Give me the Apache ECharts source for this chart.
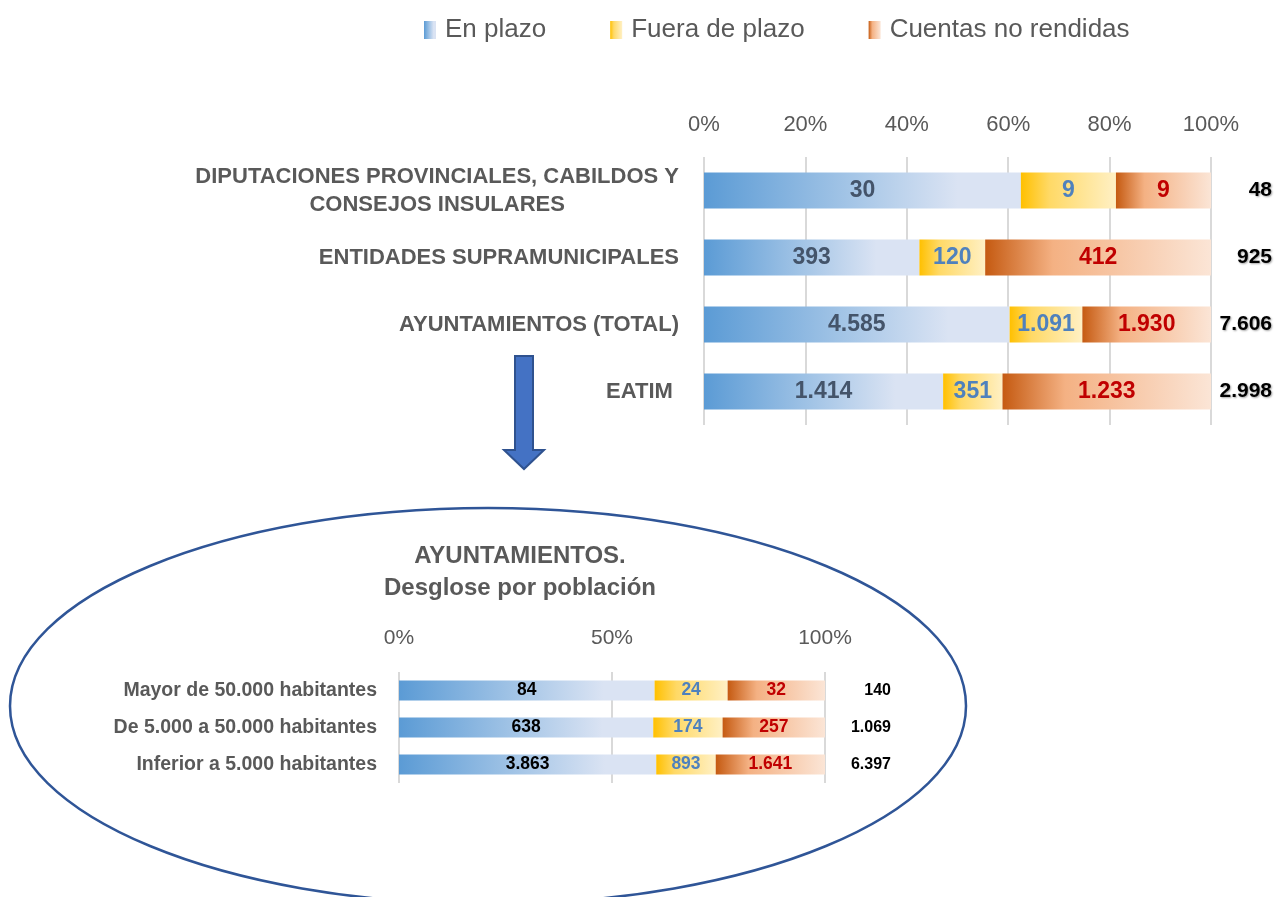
<!DOCTYPE html>
<html>
<head>
<meta charset="utf-8">
<script src="https://cdn.jsdelivr.net/npm/echarts@6/dist/echarts.min.js"></script>
<style>
  html, body { margin: 0; padding: 0; background: #fff; }
  #chart { width: 1275px; height: 897px; }
</style>
</head>
<body>
<div id="chart"></div>
<script>
// Entidades (gráfico superior)
const topCategories = [
  'DIPUTACIONES PROVINCIALES, CABILDOS Y\nCONSEJOS INSULARES',
  'ENTIDADES SUPRAMUNICIPALES',
  'AYUNTAMIENTOS (TOTAL)',
  'EATIM '
]
const topEnPlazo = [30, 393, 4585, 1414]
const topFuera = [9, 120, 1091, 351]
const topNoRendidas = [9, 412, 1930, 1233]

// Ayuntamientos por población (gráfico inferior)
const popCategories = [
  'Mayor de 50.000 habitantes',
  'De 5.000 a 50.000 habitantes',
  'Inferior a 5.000 habitantes'
]
const popEnPlazo = [84, 638, 3863]
const popFuera = [24, 174, 893]
const popNoRendidas = [32, 257, 1641]

const seriesNames = ['En plazo', 'Fuera de plazo', 'Cuentas no rendidas']

const FONT = "'Liberation Sans', Arial, sans-serif"
const GREY = '#595959'

const fmt = (n) => String(n).replace(/\B(?=(\d{3})+(?!\d))/g, '.')

const sumRows = (a, b, c) => a.map((v, i) => v + b[i] + c[i])
const topTotals = sumRows(topEnPlazo, topFuera, topNoRendidas)
const popTotals = sumRows(popEnPlazo, popFuera, popNoRendidas)

const grad = (stops) => new echarts.graphic.LinearGradient(0, 0, 1, 0,
  stops.map(([offset, color]) => ({ offset, color })))

const fills = [
  () => grad([[0, '#5b9bd5'], [0.45, '#a2c4e6'], [0.8, '#dae3f3'], [1, '#dae3f3']]),
  () => grad([[0, '#ffc000'], [0.3, '#ffd966'], [1, '#fff0c4']]),
  () => grad([[0, '#c55a11'], [0.3, '#f4b183'], [1, '#fbe5d6']])
]

const makeSeries = (idx, counts, totals, axisIndex, labelColor, fontSize) => ({
  name: seriesNames[idx],
  type: 'bar',
  stack: 'g' + axisIndex,
  xAxisIndex: axisIndex,
  yAxisIndex: axisIndex * 2,
  barWidth: '54%',
  data: counts.map((v, i) => v / totals[i] * 100),
  itemStyle: { color: fills[idx]() },
  label: {
    show: true,
    position: 'inside',
    formatter: (p) => fmt(counts[p.dataIndex]),
    color: labelColor,
    fontFamily: FONT,
    fontWeight: 'bold',
    fontSize
  },
  emphasis: { disabled: true }
})

const chart = echarts.init(document.getElementById('chart'))

const option = {
  backgroundColor: '#fff',
  animation: false,
  legend: {
    data: seriesNames,
    icon: 'rect',
    top: 12,
    left: 419,
    itemWidth: 12,
    itemHeight: 18,
    itemGap: 64,
    textStyle: { fontFamily: FONT, fontSize: 26, color: GREY, padding: [0, 0, 0, 4] }
  },
  title: {
    text: 'AYUNTAMIENTOS.\nDesglose por población',
    left: 515,
    top: 535,
    textAlign: 'center',
    textStyle: { fontFamily: FONT, fontSize: 24, fontWeight: 'bold', color: GREY, lineHeight: 32 }
  },
  grid: [
    { left: 704, right: 64, top: 157, height: 268 },
    { left: 399, right: 450, top: 672, height: 111 }
  ],
  xAxis: [
    {
      gridIndex: 0,
      type: 'value',
      position: 'top',
      min: 0,
      max: 100,
      interval: 20,
      axisLine: { show: false },
      axisTick: { show: false },
      axisLabel: { formatter: '{value}%', margin: 21, fontFamily: FONT, fontSize: 22, color: GREY },
      splitLine: { lineStyle: { color: '#d9d9d9', width: 2 } }
    },
    {
      gridIndex: 1,
      type: 'value',
      position: 'top',
      min: 0,
      max: 100,
      interval: 50,
      axisLine: { show: false },
      axisTick: { show: false },
      axisLabel: { formatter: '{value}%', margin: 23, fontFamily: FONT, fontSize: 21, color: GREY },
      splitLine: { lineStyle: { color: '#d9d9d9', width: 2 } }
    }
  ],
  yAxis: [
    {
      gridIndex: 0,
      type: 'category',
      inverse: true,
      data: topCategories,
      axisLine: { show: false },
      axisTick: { show: false },
      axisLabel: {
        margin: 25,
        formatter: (v) => '{c|' + v + '}',
        rich: {
          c: { align: 'center', fontFamily: FONT, fontSize: 22, fontWeight: 'bold', color: GREY, lineHeight: 28 }
        }
      }
    },
    {
      gridIndex: 0,
      type: 'category',
      inverse: true,
      position: 'right',
      data: topTotals.map(fmt),
      axisLine: { show: false },
      axisTick: { show: false },
      axisLabel: {
        margin: 61,
        align: 'right',
        fontFamily: FONT,
        fontSize: 21,
        fontWeight: 'bold',
        color: '#000',
        textShadowColor: 'rgba(0,0,0,0.35)',
        textShadowBlur: 2,
        textShadowOffsetX: 1,
        textShadowOffsetY: 1
      }
    },
    {
      gridIndex: 1,
      type: 'category',
      inverse: true,
      data: popCategories,
      axisLine: { show: false },
      axisTick: { show: false },
      axisLabel: { margin: 22, fontFamily: FONT, fontSize: 19.5, fontWeight: 'bold', color: GREY }
    },
    {
      gridIndex: 1,
      type: 'category',
      inverse: true,
      position: 'right',
      data: popTotals.map(fmt),
      axisLine: { show: false },
      axisTick: { show: false },
      axisLabel: { margin: 66, align: 'right', fontFamily: FONT, fontSize: 16, fontWeight: 'bold', color: '#000' }
    }
  ],
  series: [
    makeSeries(0, topEnPlazo, topTotals, 0, '#44546a', 23),
    makeSeries(1, topFuera, topTotals, 0, '#4f81bd', 23),
    makeSeries(2, topNoRendidas, topTotals, 0, '#c00000', 23),
    makeSeries(0, popEnPlazo, popTotals, 1, '#000', 17.5),
    makeSeries(1, popFuera, popTotals, 1, '#4f81bd', 17.5),
    makeSeries(2, popNoRendidas, popTotals, 1, '#c00000', 17.5)
  ],
  graphic: [
    {
      type: 'ellipse',
      z: -1,
      shape: { cx: 488, cy: 706, rx: 478, ry: 198 },
      style: { fill: 'none', stroke: '#2f5597', lineWidth: 2.5 }
    },
    {
      // flecha hacia el desglose
      type: 'polygon',
      shape: {
        points: [[515, 356], [533, 356], [533, 450], [544, 450], [524, 469], [504, 450], [515, 450]]
      },
      style: { fill: '#4472c4', stroke: '#2f528f', lineWidth: 2 }
    }
  ]
}

chart.setOption(option)
</script>
</body>
</html>
